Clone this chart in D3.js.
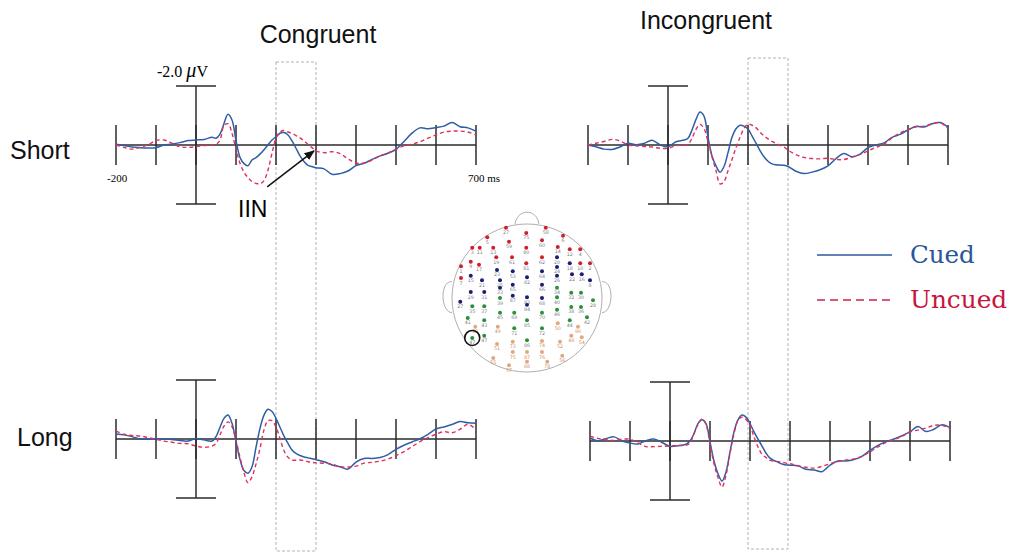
<!DOCTYPE html>
<html>
<head>
<meta charset="utf-8">
<script src="https://cdn.jsdelivr.net/npm/d3@7"></script>
<style>
  body { margin: 0; background: #fff; }
  svg { display: block; }
</style>
</head>
<body>
<div id="chart"></div>
<script>
// sample times (ms), shared by all waveforms
const times = [-200,-180,-160,-140,-120,-100,-80,-60,-40,-20,0,20,40,
  50,60,70,80,90,100,110,120,130,140,150,160,170,180,190,200,210,220,230,240,250,260,270,280,290,300,
  320,340,360,380,400,420,440,460,480,500,520,540,560,580,600,620,640,660,680,700];

// amplitudes in microvolts (negative plotted up)
const shortCongCued = [-0.03,0.02,0.07,0.09,0.10,0.09,0,-0.03,-0.08,-0.15,-0.17,-0.19,-0.26,
  -0.23,-0.37,-0.73,-1.04,-0.85,-0.15,0.42,0.63,0.70,0.51,0.43,0.31,0.16,-0.01,-0.17,-0.28,-0.40,-0.42,-0.34,-0.14,0.11,0.37,0.56,0.69,0.73,0.77,
  0.81,0.99,0.97,0.88,0.70,0.62,0.49,0.37,0.28,0.15,-0.12,-0.40,-0.58,-0.55,-0.59,-0.64,-0.76,-0.62,-0.58,-0.47];
const shortCongUncued = [0,0.08,0.14,0.08,-0.01,-0.15,-0.17,-0.06,0.06,0.08,0.06,0.02,0,
  -0.02,-0.17,-0.66,-0.72,-0.40,0.15,0.62,0.92,1.11,1.24,1.30,1.32,1.21,0.85,0.28,-0.23,-0.44,-0.49,-0.44,-0.40,-0.32,-0.24,-0.14,-0.02,0.09,0.20,
  0.26,0.23,0.29,0.47,0.61,0.61,0.51,0.37,0.27,0.14,0.03,-0.03,-0.11,-0.23,-0.34,-0.44,-0.47,-0.47,-0.44,-0.34];
const shortIncCued = [0,0.06,0.14,0.15,0.07,-0.06,-0.01,-0.05,-0.16,-0.01,0.06,-0.11,-0.17,
  -0.23,-0.51,-0.87,-1.12,-0.98,-0.26,0.37,0.71,0.92,0.73,0.26,-0.26,-0.55,-0.67,-0.64,-0.54,-0.31,-0.06,0.19,0.40,0.55,0.64,0.67,0.68,0.69,0.73,
  0.89,0.97,0.92,0.84,0.71,0.46,0.29,0.40,0.31,0.09,0,-0.07,-0.26,-0.36,-0.51,-0.63,-0.61,-0.72,-0.76,-0.60];
const shortIncUncued = [0,-0.06,-0.12,-0.19,-0.14,0,0.03,0.05,0.07,0.11,0.11,0.02,0,
  -0.02,-0.23,-0.53,-0.70,-0.56,-0.11,0.40,0.87,1.32,1.24,0.87,0.49,0.09,-0.26,-0.56,-0.71,-0.67,-0.59,-0.43,-0.31,-0.21,-0.12,-0.06,0.01,0.07,0.17,
  0.33,0.42,0.46,0.47,0.45,0.49,0.49,0.41,0.32,0.20,0.08,-0.03,-0.24,-0.41,-0.51,-0.62,-0.64,-0.71,-0.76,-0.56];
const longCongCued = [-0.17,-0.14,-0.08,0,0.01,-0.01,0,0.02,0.05,0.07,-0.02,0.03,0.07,
  -0.08,-0.40,-0.70,-0.81,-0.53,0.09,0.69,1.07,1.16,0.94,0.28,-0.36,-0.81,-1.01,-0.93,-0.70,-0.40,-0.10,0.15,0.37,0.49,0.56,0.61,0.64,0.67,0.70,
  0.77,0.88,0.94,1.02,0.78,0.66,0.66,0.63,0.53,0.35,0.21,0.10,-0.01,-0.16,-0.34,-0.41,-0.49,-0.59,-0.55,-0.53];
const longCongUncued = [-0.27,-0.16,-0.12,-0.10,-0.05,0.01,0.07,0.11,0.15,0.16,0.24,0.28,0.24,
  0.15,-0.14,-0.44,-0.58,-0.42,0.03,0.62,1.14,1.48,1.28,0.85,0.32,-0.31,-0.62,-0.62,-0.40,-0.02,0.40,0.62,0.71,0.72,0.71,0.73,0.77,0.79,0.81,
  0.82,0.85,0.94,0.95,0.92,0.82,0.79,0.75,0.68,0.56,0.43,0.26,0.09,-0.05,-0.16,-0.25,-0.21,-0.33,-0.50,-0.31];
const longIncCued = [-0.10,-0.01,-0.08,-0.14,0,0.07,0.10,-0.01,-0.07,0.05,0.18,0.16,0.11,
  0,-0.25,-0.59,-0.72,-0.59,0.03,0.68,1.11,1.36,1.05,0.37,-0.31,-0.72,-0.88,-0.81,-0.59,-0.31,-0.06,0.17,0.41,0.58,0.66,0.72,0.78,0.81,0.82,
  0.84,0.96,0.98,1.04,0.82,0.68,0.68,0.63,0.52,0.32,0.15,0.02,-0.07,-0.18,-0.31,-0.49,-0.32,-0.40,-0.55,-0.45];
const longIncUncued = [-0.16,-0.09,-0.05,-0.02,-0.06,-0.06,0.06,0.19,0.19,0.18,0.17,0.15,0.15,
  0.07,-0.25,-0.56,-0.75,-0.56,0.09,0.77,1.24,1.56,1.16,0.43,-0.25,-0.70,-0.81,-0.73,-0.53,-0.14,0.20,0.45,0.56,0.66,0.68,0.70,0.72,0.75,0.77,
  0.84,0.89,0.92,0.86,0.77,0.70,0.64,0.61,0.51,0.37,0.20,0.05,-0.05,-0.16,-0.31,-0.37,-0.44,-0.53,-0.53,-0.42];

const columnLabels = ["Congruent", "Incongruent"];
const rowLabels = ["Short", "Long"];
const tickTimes = [-200,-100,0,100,200,300,400,500,600,700];
const windowMs = [200, 300];
const seriesNames = ["Cued", "Uncued"];

// electrode sites: label, x, y on a unit head, region
const electrodes = [
  ["27",-0.28,-0.95,"F"],["75",-0.01,-0.88,"F"],["58",0.25,-0.95,"F"],["6",0.48,-0.84,"F"],
  ["5",-0.53,-0.82,"F"],["59",-0.24,-0.76,"F"],["80",-0.01,-0.68,"F"],["60",0.20,-0.78,"F"],
  ["3",-0.73,-0.68,"F"],["11",-0.63,-0.68,"F"],["13",-0.45,-0.68,"F"],["19",-0.41,-0.55,"F"],
  ["61",-0.20,-0.55,"F"],["81",-0.01,-0.47,"F"],["62",0.20,-0.55,"F"],["14",0.41,-0.69,"F"],
  ["12",0.57,-0.66,"F"],["4",0.71,-0.66,"F"],["1",-0.88,-0.43,"F"],["9",-0.75,-0.49,"F"],
  ["17",-0.64,-0.45,"F"],["7",-0.88,-0.27,"F"],["10",0.71,-0.47,"F"],["2",0.84,-0.47,"F"],
  ["15",-0.75,-0.30,"C"],["21",-0.60,-0.24,"C"],["23",-0.40,-0.38,"C"],["53",-0.19,-0.36,"C"],
  ["82",0,-0.28,"C"],["64",0.20,-0.36,"C"],["20",0.40,-0.55,"C"],["24",0.40,-0.42,"C"],
  ["26",0.40,-0.30,"C"],["18",0.57,-0.47,"C"],["22",0.60,-0.32,"C"],["16",0.73,-0.32,"C"],
  ["8",0.84,-0.24,"C"],["25",-0.36,-0.24,"C"],["65",-0.19,-0.18,"C"],["66",0.20,-0.18,"C"],
  ["29",-0.75,-0.08,"C"],["31",-0.57,-0.08,"C"],["33",-0.36,-0.14,"C"],["87",-0.19,-0.03,"C"],
  ["83",0,-0.01,"C"],["68",0.20,0,"C"],["27",-0.89,0.05,"C"],["84",0,0.09,"C"],
  ["35",-0.73,0.11,"P"],["37",-0.57,0.11,"P"],["39",-0.36,0,"P"],["34",0.40,-0.14,"P"],
  ["40",0.40,-0.01,"P"],["32",0.59,-0.07,"P"],["30",0.72,-0.07,"P"],["28",0.88,0.03,"P"],
  ["41",-0.79,0.27,"P"],["43",-0.57,0.30,"P"],["45",-0.36,0.20,"P"],["69",-0.17,0.20,"P"],
  ["85",0,0.30,"P"],["70",0.20,0.20,"P"],["46",0.40,0.16,"P"],["38",0.59,0.12,"P"],
  ["36",0.72,0.12,"P"],["44",0.57,0.30,"P"],["42",0.80,0.26,"P"],["71",-0.17,0.41,"P"],
  ["72",0.20,0.41,"P"],["86",0,0.57,"P"],["47",-0.73,0.54,"P"],["47",-0.57,0.51,"P"],
  ["53",-0.69,0.39,"O"],["49",-0.39,0.39,"O"],["50",0.41,0.34,"O"],["73",-0.19,0.59,"O"],
  ["74",0.20,0.58,"O"],["51",-0.40,0.62,"O"],["75",-0.19,0.73,"O"],["87",0,0.73,"O"],
  ["76",0.20,0.73,"O"],["52",0.44,0.59,"O"],["48",0.59,0.51,"O"],["90",0.68,0.39,"O"],
  ["54",0.73,0.53,"O"],["55",-0.45,0.81,"O"],["57",-0.24,0.91,"O"],["88",0,0.86,"O"],
  ["78",0.27,0.86,"O"],["56",0.47,0.78,"O"]
];
const markedSite = [-0.73, 0.54];
const regionColors = {F: "#d0202e", C: "#1c1f6e", P: "#2e8f3a", O: "#e2a77c"};

const cuedColor = "#2f5ea6", uncuedColor = "#e0305c";

const W = 1015, H = 554;
const svg = d3.select("#chart").append("svg").attr("width", W).attr("height", H);

const panels = [
  {row: 0, col: 0, x0: 116, y0: 145, cued: shortCongCued, uncued: shortCongUncued},
  {row: 0, col: 1, x0: 588, y0: 145, cued: shortIncCued, uncued: shortIncUncued},
  {row: 1, col: 0, x0: 116, y0: 439, cued: longCongCued, uncued: longCongUncued},
  {row: 1, col: 1, x0: 590, y0: 441, cued: longIncCued, uncued: longIncUncued}
];

const axisColor = "#2b2b2b";

// dashed analysis windows (one per column, spanning both rows)
[{x0: 116, top: 62, bottom: 551}, {x0: 588, top: 58, bottom: 549}].forEach(c => {
  let x = d3.scaleLinear().domain([-200, 700]).range([c.x0, c.x0 + 360]);
  svg.append("rect")
    .attr("x", x(windowMs[0])).attr("y", c.top)
    .attr("width", x(windowMs[1]) - x(windowMs[0])).attr("height", c.bottom - c.top)
    .attr("fill", "none").attr("stroke", "#a9a9a9").attr("stroke-width", 0.9)
    .attr("stroke-dasharray", "3,2");
});

panels.forEach(p => {
  let x = d3.scaleLinear().domain([-200, 700]).range([p.x0, p.x0 + 360]);
  let y = d3.scaleLinear().domain([-2, 2]).range([p.y0 - 59, p.y0 + 59]);
  let g = svg.append("g");

  // time axis with tall ticks
  g.append("line").attr("x1", x(-200)).attr("x2", x(700)).attr("y1", y(0)).attr("y2", y(0))
    .attr("stroke", axisColor).attr("stroke-width", 1.5);
  g.selectAll(".tick").data(tickTimes).enter().append("line")
    .attr("x1", d => x(d)).attr("x2", d => x(d))
    .attr("y1", y(0) - 20).attr("y2", y(0) + 20)
    .attr("stroke", axisColor).attr("stroke-width", 1.5);

  // amplitude axis with caps
  g.append("line").attr("x1", x(0)).attr("x2", x(0)).attr("y1", y(-2)).attr("y2", y(2))
    .attr("stroke", axisColor).attr("stroke-width", 1.5);
  [-2, 2].forEach(v => {
    g.append("line").attr("x1", x(0) - 20).attr("x2", x(0) + 20).attr("y1", y(v)).attr("y2", y(v))
      .attr("stroke", axisColor).attr("stroke-width", 1.5);
  });

  let line = d3.line()
    .x((d, i) => x(times[i]))
    .y(d => y(d))
    .curve(d3.curveCatmullRom.alpha(0.5));

  g.append("path").attr("d", line(p.cued))
    .attr("fill", "none").attr("stroke", cuedColor).attr("stroke-width", 1.5);
  g.append("path").attr("d", line(p.uncued))
    .attr("fill", "none").attr("stroke", uncuedColor).attr("stroke-width", 1.4)
    .attr("stroke-dasharray", "4,3");

  if (p.row == 0 && p.col == 0) {
    g.append("text").attr("x", x(-200) - 9).attr("y", y(0) + 37)
      .attr("font-family", "Liberation Serif, serif").attr("font-size", 11).text("-200");
    g.append("text").attr("x", x(700) - 8).attr("y", y(0) + 37)
      .attr("font-family", "Liberation Serif, serif").attr("font-size", 11).text("700 ms");
    let lab = g.append("text").attr("x", x(0) - 39).attr("y", y(-2) - 9)
      .attr("font-family", "Liberation Serif, serif").attr("font-size", 16);
    lab.append("tspan").text("-2.0 ");
    lab.append("tspan").attr("font-style", "italic").attr("font-size", 20).text("\u03bc");
    lab.append("tspan").text("V");

    // IIN arrow
    svg.append("defs").append("marker")
      .attr("id", "arrow").attr("viewBox", "0 0 10 10").attr("refX", 9).attr("refY", 5)
      .attr("markerWidth", 7).attr("markerHeight", 7).attr("orient", "auto")
      .append("path").attr("d", "M0,1 L10,5 L0,9 z").attr("fill", "#111");
    g.append("line").attr("x1", x(178)).attr("y1", y(1.42)).attr("x2", x(295)).attr("y2", y(0.2))
      .attr("stroke", "#111").attr("stroke-width", 1.5).attr("marker-end", "url(#arrow)");
    g.append("text").attr("x", x(105)).attr("y", y(2.44))
      .attr("font-family", "Liberation Sans, Arial, sans-serif").attr("font-size", 23).text("IIN");
  }
});

// column and row titles
svg.selectAll(".coltitle").data(columnLabels).enter().append("text")
  .attr("x", (d, i) => i == 0 ? 318 : 706)
  .attr("y", (d, i) => i == 0 ? 43 : 29)
  .attr("text-anchor", "middle")
  .attr("font-family", "Liberation Sans, Arial, sans-serif").attr("font-size", 25)
  .attr("fill", "#111").text(d => d);
svg.selectAll(".rowtitle").data(rowLabels).enter().append("text")
  .attr("x", (d, i) => i == 0 ? 10 : 17)
  .attr("y", (d, i) => i == 0 ? 159 : 446)
  .attr("font-family", "Liberation Sans, Arial, sans-serif").attr("font-size", 25)
  .attr("fill", "#111").text(d => d);

// legend
const legend = svg.append("g");
seriesNames.forEach((s, i) => {
  let yy = 255 + i * 45;
  legend.append("line").attr("x1", 817).attr("x2", 892).attr("y1", yy).attr("y2", yy)
    .attr("stroke", i == 0 ? "#2a5a9e" : "#d0204a").attr("stroke-width", 1.6)
    .attr("stroke-dasharray", i == 0 ? null : "8,5");
  legend.append("text").attr("x", 910).attr("y", yy + 8)
    .attr("font-family", "DejaVu Serif, serif").attr("font-size", 24)
    .attr("textLength", s.length * 16.2).attr("lengthAdjust", "spacingAndGlyphs")
    .attr("fill", i == 0 ? "#2a5597" : "#c8143e").text(s);
});

// electrode map
const hx = d3.scaleLinear().domain([-1, 1]).range([452, 602]);
const hy = d3.scaleLinear().domain([-1, 1]).range([224, 372]);
const head = svg.append("g");
head.append("path")
  .attr("d", `M${hx(-0.16)},${hy(-1)} C${hx(-0.14)},${hy(-1.12)} ${hx(-0.06)},${hy(-1.16)} ${hx(0)},${hy(-1.16)} C${hx(0.06)},${hy(-1.16)} ${hx(0.14)},${hy(-1.12)} ${hx(0.16)},${hy(-1)}`)
  .attr("fill", "#fff").attr("stroke", "#999").attr("stroke-width", 0.8);
[-1, 1].forEach(s => {
  head.append("path")
    .attr("d", `M${hx(s * 1)},${hy(-0.22)} C${hx(s * 1.16)},${hy(-0.24)} ${hx(s * 1.16)},${hy(0.18)} ${hx(s * 1)},${hy(0.2)}`)
    .attr("fill", "#fff").attr("stroke", "#999").attr("stroke-width", 0.8);
});
head.append("ellipse").attr("cx", hx(0)).attr("cy", hy(0))
  .attr("rx", hx(1) - hx(0)).attr("ry", hy(1) - hy(0))
  .attr("fill", "none").attr("stroke", "#999").attr("stroke-width", 0.8);

head.selectAll(".site").data(electrodes).enter().append("circle")
  .attr("cx", d => hx(d[1])).attr("cy", d => hy(d[2])).attr("r", 2)
  .attr("fill", d => regionColors[d[3]]);
head.selectAll(".sitelab").data(electrodes).enter().append("text")
  .attr("x", d => hx(d[1])).attr("y", d => hy(d[2]) + 6.5)
  .attr("text-anchor", "middle").attr("font-family", "DejaVu Sans, sans-serif").attr("font-size", 4.8)
  .attr("fill", d => d[3] == "O" ? "#c98f6a" : "#7c7c8a").text(d => d[0]);
head.append("circle").attr("cx", hx(markedSite[0])).attr("cy", hy(markedSite[1])).attr("r", 7.5)
  .attr("fill", "none").attr("stroke", "#111").attr("stroke-width", 1.6);
</script>
</body>
</html>
